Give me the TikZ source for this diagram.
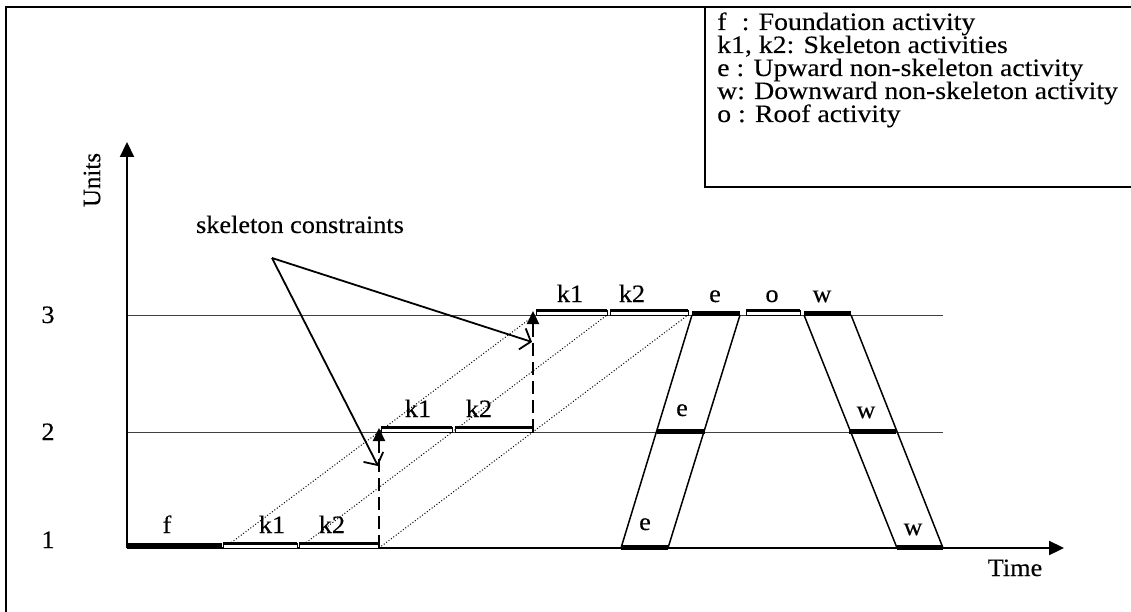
\documentclass[tikz,border=0pt]{standalone}
\usepackage{fontspec}
\setmainfont{Liberation Serif}[UprightFeatures={FakeBold=0.25}]
\usetikzlibrary{arrows.meta}
\newcommand{\lab}{\fontsize{25}{29}\selectfont}
\begin{document}
\begin{tikzpicture}[x=1pt,y=-1pt,
  frameline/.style={line width=1.8pt},
  gridline/.style={line width=0.8pt, black!75},
  axisline/.style={line width=2.2pt, -{Triangle[length=15pt,width=14pt]}},
  thickbar/.style={fill=black, draw=none},
  dblbar/.style={draw=black, line width=1pt, fill=white},
  bartop/.style={line width=2.2pt},
  constraint/.style={line width=2.2pt, dash pattern=on 13pt off 6pt, -{Triangle[length=13pt,width=12pt]}},
  diag/.style={line width=1pt, dotted},
  edge/.style={line width=1.5pt},
  callout/.style={line width=1.8pt, -{Straight Barb[length=9pt,width=22pt,line width=1.8pt]}},
  lbl/.style={font=\lab, inner sep=0pt, anchor=base, xscale=1.05},
  leg/.style={font=\lab, inner sep=0pt, anchor=base west, xscale=1.11}]
\useasboundingbox (0,0) rectangle (1131,612);
\fill[white] (0,0) rectangle (1131,612);
% outer frame
\draw[frameline] (6,640) -- (6,7) -- (1140,7);
% legend box
\draw[frameline] (1140,187) -- (705,187) -- (705,7);
\node[leg] (l1) at (717,30) {f\hspace{0.55em}: Foundation activity};
\node[leg] (l2) at (717,53) {k1, k2: Skeleton activities};
\node[leg] (l3) at (717,76) {e : Upward non-skeleton activity};
\node[leg] (l4) at (717,99) {w: Downward non-skeleton activity};
\node[leg] (l5) at (717,122) {o : Roof activity};
% grid lines
\coordinate (g2a) at (127,432); \coordinate (g2b) at (943,432);
\coordinate (g3a) at (127,315); \coordinate (g3b) at (943,315);
\draw[gridline] (g2a) -- (g2b);
\draw[gridline] (g3a) -- (g3b);
% axes
\coordinate (O) at (127,548);
\coordinate (ytip) at (127,142);
\coordinate (xtip) at (1064,548);
\draw[axisline] (O) -- (ytip);
\draw[axisline] (O) -- (xtip);
\node[lbl] (n1) at (48,548) {1};
\node[lbl] (n2) at (48,440) {2};
\node[lbl] (n3) at (48,323) {3};
\node[font=\lab, inner sep=0pt, rotate=90] (units) at (92,180) {Units};
\node[lbl] (time) at (1015,576) {Time};
% dotted diagonals
\draw[diag] (224,548) -- (535,315);
\draw[diag] (299,548) -- (607,315);
\draw[diag] (379,548) -- (688,315);
% level 1 bars
\fill[thickbar] (127,543) rectangle (222,549);
\draw[dblbar] (223,543.5) rectangle (297,548);
\draw[bartop] (223,543.5) -- (297,543.5);
\draw[dblbar] (299,543.5) rectangle (378,548);
\draw[bartop] (299,543.5) -- (378,543.5);
% level 2 bars
\draw[dblbar] (381,427.5) rectangle (452,432);
\draw[bartop] (381,427.5) -- (452,427.5);
\draw[dblbar] (455,427.5) rectangle (533,432);
\draw[bartop] (455,427.5) -- (533,427.5);
% level 3 bars
\draw[dblbar] (536,310.5) rectangle (607,315);
\draw[bartop] (536,310.5) -- (607,310.5);
\draw[dblbar] (610,310.5) rectangle (688,315);
\draw[bartop] (610,310.5) -- (688,310.5);
\fill[thickbar] (692,311) rectangle (740,316);
\draw[dblbar] (746,310.5) rectangle (800,315);
\draw[bartop] (746,310.5) -- (800,310.5);
\fill[thickbar] (804,311) rectangle (851,316);
% e and w at lower levels
\fill[thickbar] (657,429) rectangle (705,434);
\fill[thickbar] (849,429) rectangle (896,434);
\fill[thickbar] (621,545) rectangle (668,550);
\fill[thickbar] (897,545) rectangle (943,550);
% e and w edges
\coordinate (e1l) at (621,548); \coordinate (e3l) at (692,315);
\coordinate (e1r) at (668,548); \coordinate (e3r) at (740,315);
\coordinate (w3l) at (804,315); \coordinate (w1l) at (897,548);
\coordinate (w3r) at (851,315); \coordinate (w1r) at (943,548);
\draw[edge] (e1l) -- (e3l);
\draw[edge] (e1r) -- (e3r);
\draw[edge] (w3l) -- (w1l);
\draw[edge] (w3r) -- (w1r);
% skeleton constraints (dashed arrows)
\coordinate (c1a) at (379,548); \coordinate (c1b) at (379,428);
\coordinate (c2a) at (533,432); \coordinate (c2b) at (533,311);
\draw[constraint] (c1a) -- (c1b);
\draw[constraint] (c2a) -- (c2b);
% activity labels
\node[lbl] (f1) at (167,533) {f};
\node[lbl] (k11) at (272,533) {k1};
\node[lbl] (k21) at (332,533) {k2};
\node[lbl] (k12) at (418,417) {k1};
\node[lbl] (k22) at (479,417) {k2};
\node[lbl] (k13) at (570,302) {k1};
\node[lbl] (k23) at (632,302) {k2};
\node[lbl] (e3) at (715,302) {e};
\node[lbl] (o3) at (772,302) {o};
\node[lbl] (w3) at (822,302) {w};
\node[lbl] (e2) at (682,416) {e};
\node[lbl] (w2) at (866,418) {w};
\node[lbl] (e1) at (645,530) {e};
\node[lbl] (w1) at (913,535) {w};
% callout
\node[lbl] (sc) at (300,233) {skeleton constraints};
\coordinate (apex) at (272,258);
\coordinate (t1) at (378,466);
\coordinate (t2) at (532,342);
\draw[callout] (apex) -- (t1);
\draw[callout] (apex) -- (t2);
\end{tikzpicture}
\end{document}
